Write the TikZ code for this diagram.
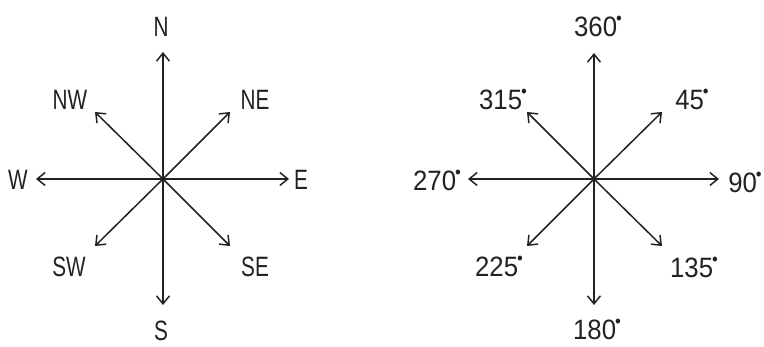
\documentclass[tikz,border=0pt]{standalone}
\usepackage{fontspec}
\setmainfont{Liberation Sans}[FakeStretch=0.74]
\newfontfamily\numfont{Liberation Sans}[FakeStretch=0.92]
\usetikzlibrary{arrows.meta}
\definecolor{ink}{HTML}{222222}
\newcommand{\dg}{{\fontsize{18}{18}\selectfont\kern-1pt\raisebox{12pt}{•}}}
\tikzset{
  x=1pt, y=-1pt,
  ray/.style={draw=ink, line width=1.5pt,
    -{Straight Barb[length=8pt, width=13pt, line width=1.5pt]}},
  lbl/.style={text=ink, inner sep=0pt, font=\fontsize{28}{28}\selectfont},
  deg/.style={lbl, font=\fontsize{28}{28}\numfont},
  hub/.style={fill=ink, circle, inner sep=0pt, minimum size=4pt}
}
\begin{document}
\begin{tikzpicture}
\useasboundingbox (0,0) rectangle (764,347);

% ---------- compass points ----------
\node[hub] (c1) at (163,179) {};
\coordinate (c1n)  at (163,52);
\coordinate (c1s)  at (163,305);
\coordinate (c1e)  at (289,179);
\coordinate (c1w)  at (36,179);
\coordinate (c1ne) at (230,112);
\coordinate (c1nw) at (95,112);
\coordinate (c1se) at (230,246);
\coordinate (c1sw) at (95,246);
\foreach \d in {n,s,e,w,ne,nw,se,sw} \draw[ray] (c1.center) -- (c1\d);

\node[lbl] (tn)  at (161,27)  {N};
\node[lbl] (ts)  at (161,331) {S};
\node[lbl] (te)  at (301,180) {E};
\node[lbl] (tw)  at (18,180)  {W};
\node[lbl] (tne) at (255,100) {NE};
\node[lbl] (tnw) at (70,100)  {NW};
\node[lbl] (tse) at (255,267) {SE};
\node[lbl] (tsw) at (69,267)  {SW};

% ---------- bearings in degrees ----------
\node[hub] (c2) at (594,179) {};
\coordinate (c2n)  at (594,53);
\coordinate (c2s)  at (594,305);
\coordinate (c2e)  at (719,179);
\coordinate (c2w)  at (468,179);
\coordinate (c2ne) at (662,112);
\coordinate (c2nw) at (527,112);
\coordinate (c2se) at (662,246);
\coordinate (c2sw) at (527,246);
\foreach \d in {n,s,e,w,ne,nw,se,sw} \draw[ray] (c2.center) -- (c2\d);

\node[deg] (d360) at (598,26)  {360\dg};
\node[deg] (d180) at (597,329) {180\dg};
\node[deg] (d90)  at (745,182) {90\dg};
\node[deg] (d270) at (437,180) {270\dg};
\node[deg] (d45)  at (692,99)  {45\dg};
\node[deg] (d315) at (503,99)  {315\dg};
\node[deg] (d135) at (694,267) {135\dg};
\node[deg] (d225) at (499,266) {225\dg};
\end{tikzpicture}
\end{document}
